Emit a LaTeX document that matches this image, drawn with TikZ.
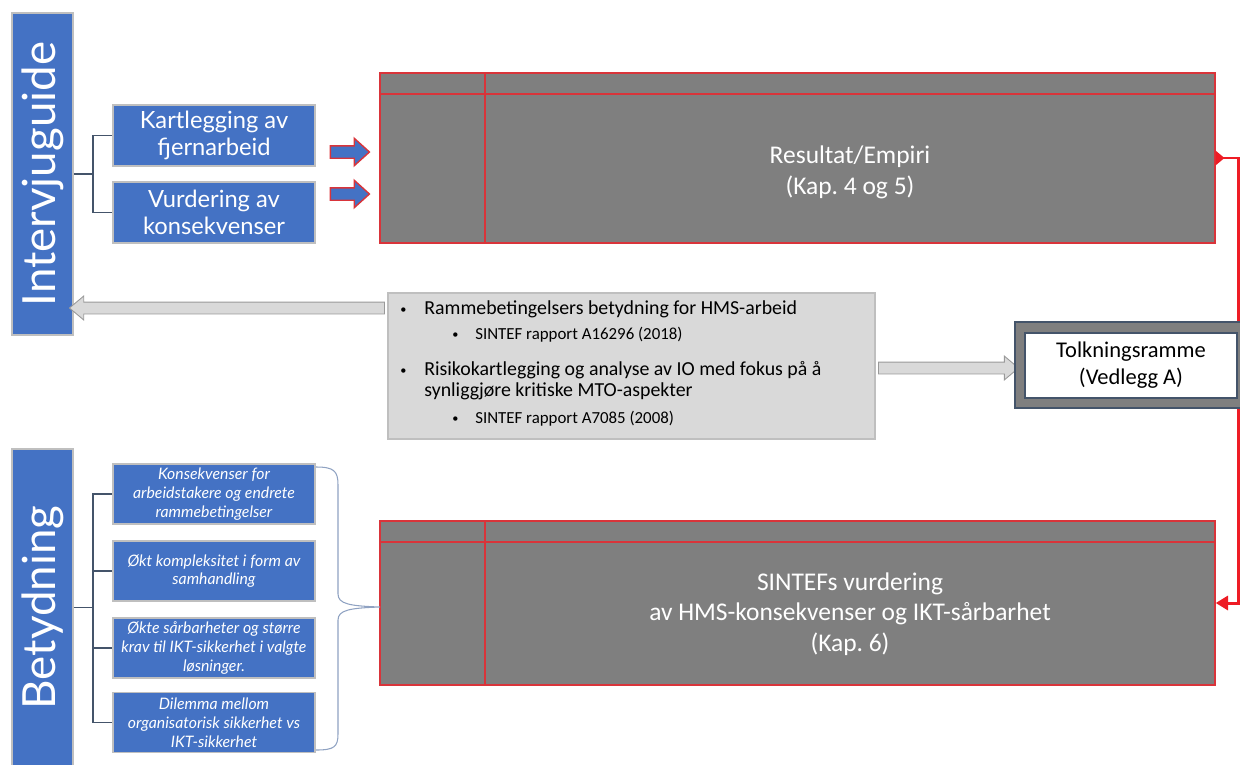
\documentclass[tikz,border=0pt]{standalone}
\usepackage{fontspec}
\setmainfont{Carlito}
\newfontfamily\gillfont{Lato}
\usetikzlibrary{shapes.arrows,arrows.meta,positioning}
\newlength\pxlen
\setlength\pxlen{0.02cm}
\definecolor{boxblue}{HTML}{4472C4}
\definecolor{treeline}{HTML}{44546A}
\definecolor{bracecol}{HTML}{8FA2C2}
\definecolor{redline}{HTML}{EE1C25}
\definecolor{boxred}{HTML}{D9343A}
\definecolor{darkgray}{HTML}{7F7F7F}
\definecolor{panelgray}{HTML}{D9D9D9}
\definecolor{edgegray}{HTML}{BFBFBF}
\newcommand{\smallbul}{\makebox[0pt][l]{\fontsize{7}{7}\selectfont\raisebox{0.2ex}{•}}}
\tikzset{
  titlebox/.style={draw=edgegray, line width=1.1pt, fill=boxblue, text=white,
    font=\gillfont\fontsize{26}{30}\selectfont, rotate=90,
    minimum height=61\pxlen, inner sep=0pt},
  bluebox/.style={draw=edgegray, line width=1.1pt, fill=boxblue, text=white,
    font=\gillfont\fontsize{13.5}{15.3}\selectfont, align=center,
    minimum width=202\pxlen, minimum height=61\pxlen, inner sep=0pt},
  itembox/.style={bluebox, font=\gillfont\itshape\fontsize{9}{10.8}\selectfont,
    minimum height=60\pxlen},
  chapbox/.style={draw=boxred, line width=0.8pt, fill=darkgray,
    minimum width=835\pxlen, inner sep=0pt},
  chaptext/.style={text=white, font=\fontsize{14.5}{17.5}\selectfont, align=center},
  infotext/.style={font=\fontsize{11.3}{12}\selectfont, anchor=west, inner sep=0pt},
  subtext/.style={font=\fontsize{9.6}{10}\selectfont, anchor=west, inner sep=0pt},
  tree/.style={draw=treeline, line width=0.9pt},
  pusharrow/.style={single arrow, draw=boxred, line width=0.8pt, fill=boxblue,
    minimum height=39\pxlen, inner xsep=0pt, inner ysep=5.5\pxlen,
    single arrow head extend=7.5\pxlen, single arrow tip angle=84},
  grayarrow/.style={single arrow, draw=edgegray!80!black, line width=0.5pt, fill=panelgray,
    inner xsep=0pt, inner ysep=5.5\pxlen, single arrow head extend=6\pxlen,
    single arrow tip angle=80},
  redconn/.style={draw=redline, line width=1.7pt,
    {Triangle[reversed,length=5pt,width=8pt]}-{Triangle[length=7pt,width=8pt]}}
}
\begin{document}
\begin{tikzpicture}[x=0.02cm,y=-0.02cm]
  \useasboundingbox (0,0) rectangle (1240,764);
  % titles on the left
  \node[titlebox, minimum width=322\pxlen] (intv) at (42.5,174) {Intervjuguide};
  \node[titlebox, minimum width=317\pxlen] (bet) at (42.5,607.5) {Betydning};
  % interview guide
  \node[bluebox] (kart) at (214,135.5) {Kartlegging av\\fjernarbeid};
  \node[bluebox] (vurd) at (214,212.5) {Vurdering av\\konsekvenser};
  \coordinate (ij) at (93,174);
  \draw[tree] (intv.south) -- (ij);
  \draw[tree] (kart.west) -| (ij) |- (vurd.west);
  \node[pusharrow] (p1) at (346.5,152) {};
  \node[pusharrow] (p2) at (346.5,194) {};
  % consequences
  \node[itembox] (k1) at (214,494) {Konsekvenser for\\arbeidstakere og endrete\\rammebetingelser};
  \node[itembox] (k2) at (214,571) {Økt kompleksitet i form av\\samhandling};
  \node[itembox] (k3) at (214,648) {Økte sårbarheter og større\\krav til IKT-sikkerhet i valgte\\løsninger.};
  \node[itembox] (k4) at (214,722.5) {Dilemma mellom\\organisatorisk sikkerhet vs\\IKT-sikkerhet};
  \coordinate (bj) at (93,607.5);
  \draw[tree] (bet.south) -- (bj);
  \foreach \i in {1,...,4}{
    \draw[tree] (bj) |- (k\i.west);}
  % chapters
  \node[chapbox, minimum height=170\pxlen] (res) at (797.5,158) {};
  \draw[boxred, line width=0.8pt] (380,94) -- (1215,94) (485,73) -- (485,243);
  \node[chaptext] (restext) at (850,172) {Resultat/Empiri\\(Kap.\ 4 og 5)};
  \node[chapbox, minimum height=164\pxlen] (sin) at (797.5,603) {};
  \draw[boxred, line width=0.8pt] (380,542) -- (1215,542) (485,521) -- (485,685);
  \node[chaptext] (sintext) at (850,614) {SINTEFs vurdering\\av HMS-konsekvenser og IKT-sårbarhet\\(Kap.\ 6)};
  \draw[bracecol, line width=0.6pt] (316,467) .. controls (334,467) and (338,471) .. (338,485)
    -- (338,594) .. controls (338,604) and (350,606) .. (380,607)
    .. controls (350,608) and (338,610) .. (338,620)
    -- (338,734) .. controls (338,747) and (334,750) .. (316,750);
  % background theory
  \node[draw=edgegray, line width=0.6pt, fill=panelgray, minimum width=487\pxlen,
    minimum height=146\pxlen, inner sep=0pt] (info) at (631.5,366) {};
  \node[infotext] (b1) at (400,309) {\makebox[24\pxlen][l]{\smallbul}Rammebetingelsers betydning for HMS-arbeid};
  \node[subtext] (s1) at (452,335) {\makebox[23\pxlen][l]{\smallbul}SINTEF rapport A16296 (2018)};
  \node[infotext] (b2) at (400,370) {\makebox[24\pxlen][l]{\smallbul}Risikokartlegging og analyse av IO med fokus på å};
  \node[infotext] (b2b) at (424,391) {synliggjøre kritiske MTO-aspekter};
  \node[subtext] (s2) at (452,419) {\makebox[23\pxlen][l]{\smallbul}SINTEF rapport A7085 (2008)};
  \node[grayarrow, minimum height=315\pxlen, shape border rotate=180] (back) at (230.5,308) {};
  \node[grayarrow, minimum height=140\pxlen] (fwd) at (945,368) {};
  % interpretation frame
  \draw[redconn] (res.east) -- ++(23,0) |- (sin.east);
  \node[draw=treeline, line width=0.6pt, fill=darkgray, minimum width=240\pxlen,
    minimum height=86\pxlen, inner sep=0pt] (tolk) at (1135,365) {};
  \node[draw=treeline, line width=0.8pt, fill=white, minimum width=212\pxlen,
    minimum height=65\pxlen, inner sep=0pt, align=center,
    font=\fontsize{12.8}{15.3}\selectfont] (tolktext) at (1131,365.5) {Tolkningsramme\\(Vedlegg A)};
\end{tikzpicture}
\end{document}
